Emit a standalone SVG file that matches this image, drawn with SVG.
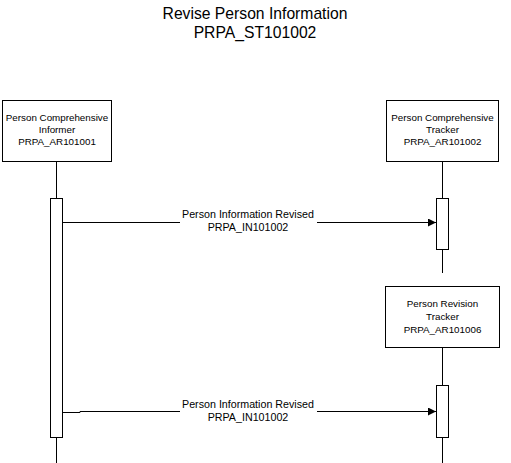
<svg xmlns="http://www.w3.org/2000/svg" width="511" height="463" viewBox="0 0 511 463">
<defs>
<style>
text{font-family:"Liberation Sans",Arial,sans-serif;fill:#000;text-anchor:middle}
.t{font-size:15.7px}
.n{font-size:9.8px}
.m{font-size:10.7px}
.box{fill:#fff;stroke:#000;stroke-width:1}
.ln{stroke:#000;stroke-width:1;fill:none}
.act{fill:#fff;stroke:#000;stroke-width:1}
</style>
<marker id="ah" markerWidth="8" markerHeight="8" refX="8" refY="4" orient="auto" markerUnits="userSpaceOnUse">
<path d="M0,0 L8,4 L0,8 Z" fill="#000"/>
</marker>
</defs>
<rect width="511" height="463" fill="#fff"/>
<g id="title">
<text class="t" x="255" y="19">Revise Person Information</text>
<text class="t" x="255" y="38">PRPA_ST101002</text>
</g>
<g id="connectors">
<path class="ln" d="M56.5 162V198M56.5 437V463"/>
<path class="ln" d="M442.5 162V198M442.5 249V273"/>
<path class="ln" d="M442.5 348V385M442.5 437V463"/>
<path class="ln" d="M62 222.5H180M317 222.5H436" marker-end="url(#ah)"/>
<path class="ln" d="M62 412.5H80V411.5H180M317 411.5H436" marker-end="url(#ah)"/>
<text class="m" x="248" y="218">Person Information Revised</text>
<text class="m" x="248" y="231">PRPA_IN101002</text>
<text class="m" x="248" y="408">Person Information Revised</text>
<text class="m" x="248" y="421">PRPA_IN101002</text>
</g>
<g id="informer">
<rect class="box" x="2.5" y="100.5" width="109" height="61"/>
<text class="n" x="57" y="121">Person Comprehensive</text>
<text class="n" x="57" y="133">Informer</text>
<text class="n" x="57" y="145">PRPA_AR101001</text>
<rect class="act" x="50.5" y="198.5" width="12" height="239"/>
</g>
<g id="tracker">
<rect class="box" x="386.5" y="100.5" width="112" height="61"/>
<text class="n" x="442.5" y="121">Person Comprehensive</text>
<text class="n" x="442.5" y="133">Tracker</text>
<text class="n" x="442.5" y="145">PRPA_AR101002</text>
<rect class="act" x="436.5" y="198.5" width="12" height="51"/>
</g>
<g id="revisionTracker">
<rect class="box" x="385.5" y="286.5" width="114" height="61"/>
<text class="n" x="442.5" y="307">Person Revision</text>
<text class="n" x="442.5" y="320">Tracker</text>
<text class="n" x="442.5" y="333">PRPA_AR101006</text>
<rect class="act" x="436.5" y="385.5" width="12" height="52"/>
</g>
</svg>
